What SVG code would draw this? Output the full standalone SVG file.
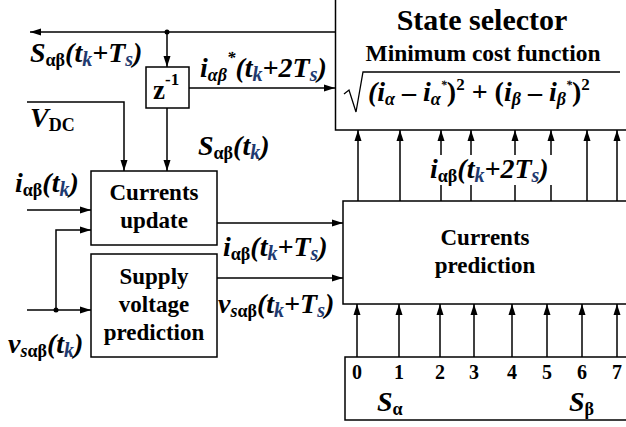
<svg xmlns="http://www.w3.org/2000/svg" width="626" height="427" viewBox="0 0 626 427" font-family="'Times New Roman', 'Liberation Serif', serif">
<defs>
  <marker id="ah" markerUnits="userSpaceOnUse" markerWidth="12" markerHeight="8" refX="11" refY="4" orient="auto">
    <path d="M0,0.5 L11,4 L0,7.5 z" fill="#000"/>
  </marker>
</defs>
<rect x="0" y="0" width="626" height="427" fill="#fff"/>

<g id="state-selector" font-weight="bold">
  <rect x="335.5" y="-5" width="300" height="135" fill="#fff" stroke="#000" stroke-width="1.5"/>
  <text x="482" y="30" font-size="30" text-anchor="middle">State selector</text>
  <text x="483" y="61" font-size="23.5" text-anchor="middle">Minimum cost function</text>
  <polyline points="344,94 349,90 356,112 363,72 620,72" fill="none" stroke="#000" stroke-width="1.3"/>
  <text x="368" y="101" font-size="28" font-style="italic">(i<tspan font-size="18" dy="4">α</tspan><tspan dy="-4" font-style="normal"> – </tspan>i<tspan font-size="18" dy="4">α</tspan><tspan font-size="12" dy="-16">*</tspan><tspan dy="12" font-style="normal">)</tspan><tspan font-size="17" font-style="normal" dy="-11">2</tspan><tspan dy="11" font-style="normal"> + (</tspan>i<tspan font-size="18" dy="4">β</tspan><tspan dy="-4" font-style="normal"> – </tspan>i<tspan font-size="18" dy="4">β</tspan><tspan font-size="12" dy="-16">*</tspan><tspan dy="12" font-style="normal">)</tspan><tspan font-size="17" font-style="normal" dy="-11">2</tspan></text>
</g>

<g id="z-delay" font-weight="bold">
  <rect x="146" y="67" width="43" height="41" fill="#fff" stroke="#000" stroke-width="1.5"/>
  <text x="153" y="99" font-size="27">z<tspan font-size="17" dy="-14">-1</tspan></text>
</g>

<g id="currents-update" font-weight="bold" font-size="23" text-anchor="middle">
  <rect x="91" y="171" width="126" height="74" fill="#fff" stroke="#000" stroke-width="1.5"/>
  <text x="154" y="200">Currents</text>
  <text x="154" y="228">update</text>
</g>

<g id="supply-voltage-prediction" font-weight="bold" font-size="23" text-anchor="middle">
  <rect x="91" y="254" width="126" height="103" fill="#fff" stroke="#000" stroke-width="1.5"/>
  <text x="154" y="284">Supply</text>
  <text x="154" y="312">voltage</text>
  <text x="154" y="340">prediction</text>
</g>

<g id="currents-prediction" font-weight="bold" font-size="23" text-anchor="middle">
  <rect x="343" y="201" width="300" height="103" fill="#fff" stroke="#000" stroke-width="1.5"/>
  <text x="485" y="245">Currents</text>
  <text x="485" y="273">prediction</text>
</g>

<g id="switching-states" font-weight="bold">
  <rect x="345" y="357" width="300" height="63" fill="#fff" stroke="#000" stroke-width="1.5"/>
  <g font-size="20" text-anchor="middle">
    <text x="357" y="379">0</text>
    <text x="399" y="379">1</text>
    <text x="440" y="379">2</text>
    <text x="474" y="379">3</text>
    <text x="512" y="379">4</text>
    <text x="547" y="379">5</text>
    <text x="582" y="379">6</text>
    <text x="617" y="379">7</text>
  </g>
  <text x="377" y="411" font-size="28" font-style="italic">S<tspan font-size="18" font-style="normal" dy="4">α</tspan></text>
  <text x="569" y="411" font-size="28" font-style="italic">S<tspan font-size="18" font-style="normal" dy="4">β</tspan></text>
</g>

<g id="connectors" fill="none" stroke="#000" stroke-width="1.5">
  <polyline points="335,32 30,32" marker-end="url(#ah)"/>
  <polyline points="167,32 167,67" marker-end="url(#ah)"/>
  <polyline points="189,88 335,88" marker-end="url(#ah)"/>
  <polyline points="27,102 124,102 124,171" marker-end="url(#ah)"/>
  <polyline points="167,108 167,171" marker-end="url(#ah)"/>
  <polyline points="27,210 91,210" marker-end="url(#ah)"/>
  <polyline points="27,310 56,310"/>
  <polyline points="56,310 91,310" marker-end="url(#ah)"/>
  <polyline points="56,310 56,230 91,230" marker-end="url(#ah)"/>
  <polyline points="217,223 343,223" marker-end="url(#ah)"/>
  <polyline points="217,278 343,278" marker-end="url(#ah)"/>
  <polyline points="358,201 358,130" marker-end="url(#ah)"/>
  <polyline points="400,201 400,130" marker-end="url(#ah)"/>
  <polyline points="441,201 441,130" marker-end="url(#ah)"/>
  <polyline points="471,201 471,130" marker-end="url(#ah)"/>
  <polyline points="515,201 515,130" marker-end="url(#ah)"/>
  <polyline points="551,201 551,130" marker-end="url(#ah)"/>
  <polyline points="587,201 587,130" marker-end="url(#ah)"/>
  <polyline points="617,201 617,130" marker-end="url(#ah)"/>
  <polyline points="357,357 357,304" marker-end="url(#ah)"/>
  <polyline points="399,357 399,304" marker-end="url(#ah)"/>
  <polyline points="440,357 440,304" marker-end="url(#ah)"/>
  <polyline points="474,357 474,304" marker-end="url(#ah)"/>
  <polyline points="512,357 512,304" marker-end="url(#ah)"/>
  <polyline points="547,357 547,304" marker-end="url(#ah)"/>
  <polyline points="582,357 582,304" marker-end="url(#ah)"/>
  <polyline points="617,357 617,304" marker-end="url(#ah)"/>
  <circle cx="167" cy="32" r="2.5" fill="#000" stroke="none"/>
  <circle cx="56" cy="310" r="2.5" fill="#000" stroke="none"/>
</g>

<g id="labels" font-weight="bold" font-style="italic" font-size="28">
  <text x="30" y="62">S<tspan font-size="18" font-style="normal" dy="4">αβ</tspan><tspan dy="-4">(t</tspan><tspan font-size="20" fill="#1f3a70" dy="4">k</tspan><tspan dy="-4">+T</tspan><tspan font-size="20" fill="#1f3a70" dy="4">s</tspan><tspan dy="-4">)</tspan></text>
  <text x="200" y="77">i<tspan font-size="18" dy="4">αβ</tspan><tspan font-size="17" dy="-18">*</tspan><tspan dy="14">(t</tspan><tspan font-size="20" fill="#1f3a70" dy="4">k</tspan><tspan dy="-4">+2T</tspan><tspan font-size="20" fill="#1f3a70" dy="4">s</tspan><tspan dy="-4">)</tspan></text>
  <text x="30" y="127">V<tspan font-size="18" font-style="normal" dy="4">DC</tspan></text>
  <text x="198" y="155">S<tspan font-size="18" font-style="normal" dy="4">αβ</tspan><tspan dy="-4">(t</tspan><tspan font-size="20" fill="#1f3a70" dy="4">k</tspan><tspan dy="-4">)</tspan></text>
  <rect x="428" y="155" width="128" height="30" fill="#fff"/>
  <text x="430" y="178">i<tspan font-size="18" font-style="normal" dy="4">αβ</tspan><tspan dy="-4">(t</tspan><tspan font-size="20" fill="#1f3a70" dy="4">k</tspan><tspan dy="-4">+2T</tspan><tspan font-size="20" fill="#1f3a70" dy="4">s</tspan><tspan dy="-4">)</tspan></text>
  <text x="15" y="192">i<tspan font-size="18" font-style="normal" dy="4">αβ</tspan><tspan dy="-4">(t</tspan><tspan font-size="20" fill="#1f3a70" dy="4">k</tspan><tspan dy="-4">)</tspan></text>
  <text x="223" y="256">i<tspan font-size="18" font-style="normal" dy="4">αβ</tspan><tspan dy="-4">(t</tspan><tspan font-size="20" fill="#1f3a70" dy="4">k</tspan><tspan dy="-4">+T</tspan><tspan font-size="20" fill="#1f3a70" dy="4">s</tspan><tspan dy="-4">)</tspan></text>
  <text x="218" y="313">v<tspan font-size="18" dy="4">s<tspan font-style="normal">αβ</tspan></tspan><tspan dy="-4">(t</tspan><tspan font-size="20" fill="#1f3a70" dy="4">k</tspan><tspan dy="-4">+T</tspan><tspan font-size="20" fill="#1f3a70" dy="4">s</tspan><tspan dy="-4">)</tspan></text>
  <text x="8" y="353">v<tspan font-size="18" dy="4">s<tspan font-style="normal">αβ</tspan></tspan><tspan dy="-4">(t</tspan><tspan font-size="20" fill="#1f3a70" dy="4">k</tspan><tspan dy="-4">)</tspan></text>
</g>
</svg>
